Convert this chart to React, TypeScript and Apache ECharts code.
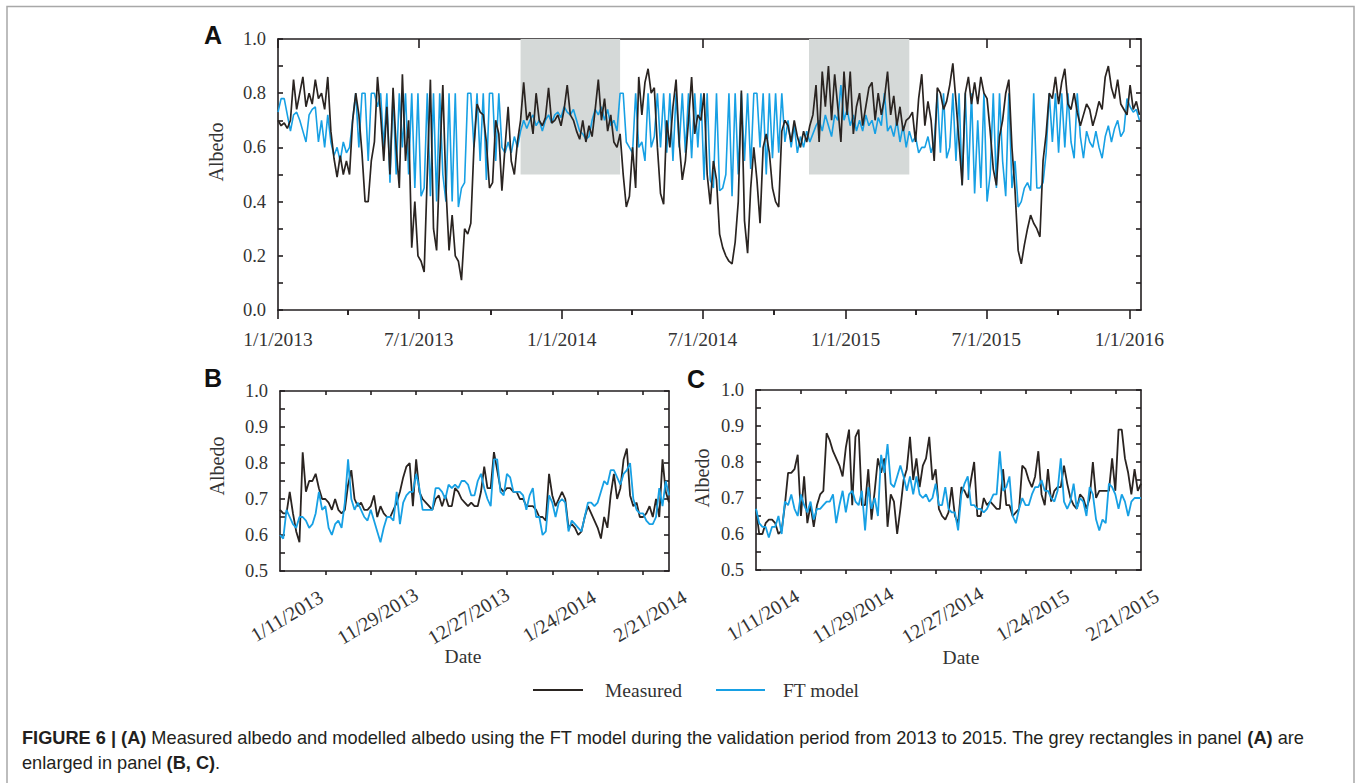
import React, { useEffect, useRef } from 'react';
import * as echarts from 'echarts';

// ---------- DATA ----------
// Panel A: sampled every A_STEP days from 1/1/2013
const A_STEP = 4;
const aMeasured = [
  0.70,0.68,0.69,0.67,0.70,0.85,0.74,0.80,0.86,0.75,0.80,0.76,0.85,0.78,0.80,0.74,
  0.86,0.66,0.56,0.49,0.57,0.50,0.55,0.50,0.70,0.80,0.72,0.58,0.40,0.40,0.55,0.62,
  0.86,0.72,0.55,0.75,0.50,0.82,0.60,0.45,0.87,0.55,0.70,0.23,0.40,0.20,0.18,0.14,
  0.50,0.85,0.30,0.22,0.55,0.83,0.45,0.22,0.35,0.20,0.18,0.11,0.30,0.28,0.32,0.60,
  0.76,0.73,0.72,0.62,0.45,
  0.47,0.70,0.65,0.44,0.60,0.75,0.55,0.50,0.62,0.70,0.84,0.70,0.73,0.65,0.80,0.70,
  0.68,0.71,0.82,0.69,0.70,0.72,0.68,0.74,0.83,0.72,0.70,0.66,0.63,0.70,0.62,0.68,
  0.64,0.74,0.85,0.70,0.78,0.66,0.72,0.62,0.60,0.65,0.50,0.38,0.42,0.60,0.45,0.86,
  0.72,0.84,0.89,0.80,0.82,0.60,0.43,0.39,0.70,0.60,0.75,0.85,0.62,0.48,0.55,0.70,
  0.86,0.65,0.72,0.70,0.80,0.50,0.39,0.55,0.48,0.28,0.23,0.20,0.18,0.17,0.25,0.40,
  0.81,0.33,0.21,0.45,0.60,0.48,0.32,0.60,0.65,0.58,0.45,0.40,0.38,0.66,0.70,0.68,
  0.62,0.70,0.64,0.60,0.66,0.62,0.68,
  0.72,0.83,0.62,0.88,0.75,0.90,0.70,0.87,0.75,0.62,0.88,0.72,0.88,0.65,0.75,0.80,
  0.68,0.75,0.82,0.84,0.70,0.80,0.72,0.78,0.88,0.72,0.79,0.68,0.75,0.66,0.70,0.71,
  0.73,0.62,0.78,0.87,
  0.68,0.77,0.70,0.55,0.82,0.80,0.74,0.77,0.83,0.91,0.77,0.62,0.46,0.80,0.86,0.76,
  0.84,0.76,0.86,0.80,0.78,0.66,0.52,0.46,0.64,0.70,0.80,0.85,0.60,0.44,0.22,0.17,
  0.24,0.30,0.35,0.32,0.30,0.27,0.55,0.65,0.80,0.78,0.86,0.76,0.84,0.89,0.76,0.74,
  0.80,0.73,0.68,0.72,0.76,0.74,0.68,0.72,0.77,0.74,0.86,0.90,0.82,0.78,0.85,0.76,
  0.74,0.72,0.83,0.74,0.77,0.72,
];
const aModel = [
  0.73,0.78,0.78,0.72,0.66,0.72,0.73,0.70,0.66,0.62,0.72,0.74,0.75,0.62,0.70,0.60,
  0.72,0.62,0.57,0.60,0.55,0.62,0.58,0.60,0.70,0.80,0.60,0.80,0.80,0.55,0.80,0.80,
  0.75,0.80,0.60,0.80,0.47,0.80,0.50,0.80,0.60,0.80,0.50,0.80,0.45,0.80,0.42,0.45,
  0.80,0.42,0.80,0.40,0.80,0.50,0.40,0.80,0.40,0.80,0.38,0.45,0.47,0.80,0.80,0.60,
  0.80,0.55,0.80,0.48,0.80,
  0.80,0.55,0.80,0.60,0.58,0.62,0.58,0.64,0.60,0.66,0.70,0.67,0.70,0.72,0.68,0.70,
  0.66,0.70,0.72,0.69,0.72,0.73,0.71,0.75,0.73,0.72,0.74,0.70,0.66,0.65,0.63,0.64,
  0.70,0.74,0.72,0.75,0.70,0.74,0.68,0.70,0.66,0.80,0.80,0.62,0.60,0.58,0.80,0.60,
  0.62,0.55,0.80,0.60,0.64,0.80,0.60,0.80,0.58,0.80,0.55,0.80,0.60,0.80,0.58,0.80,
  0.56,0.80,0.60,0.80,0.48,0.80,0.48,0.45,0.80,0.44,0.45,0.50,0.80,0.42,0.80,0.50,
  0.80,0.55,0.80,0.52,0.80,0.80,0.60,0.80,0.50,0.80,0.56,0.80,0.58,0.80,0.62,0.70,
  0.60,0.68,0.58,0.64,0.60,0.66,0.62,
  0.65,0.68,0.70,0.66,0.72,0.68,0.64,0.72,0.70,0.83,0.70,0.74,0.68,0.72,0.66,0.70,
  0.66,0.72,0.68,0.70,0.65,0.71,0.68,0.80,0.66,0.68,0.64,0.70,0.62,0.68,0.60,0.66,
  0.62,0.64,0.58,0.60,
  0.60,0.64,0.58,0.62,0.80,0.58,0.80,0.56,0.60,0.80,0.55,0.80,0.46,0.80,0.48,0.80,
  0.43,0.70,0.45,0.80,0.40,0.50,0.80,0.45,0.80,0.55,0.42,0.80,0.45,0.55,0.38,0.40,
  0.45,0.47,0.44,0.80,0.45,0.45,0.47,0.58,0.80,0.62,0.80,0.58,0.80,0.60,0.80,0.62,
  0.56,0.80,0.64,0.56,0.66,0.62,0.60,0.66,0.60,0.56,0.64,0.68,0.62,0.67,0.70,0.64,
  0.66,0.78,0.75,0.73,0.74,0.70,
];
const aTickLabels = ['1/1/2013', '7/1/2013', '1/1/2014', '7/1/2014', '1/1/2015', '7/1/2015', '1/1/2016'];
const aMajorDays = [0, 181, 365, 546, 730, 911, 1095];
const aMinorDays = [90, 273, 455, 638, 820, 1003];
const aMaxDay = 1110;
const greyBoxes = [[312, 440], [683, 812]];

// Panels B and C: daily values, 120 days
const bMeasured = [
  0.67,0.66,0.66,0.72,0.66,0.61,0.58,0.83,0.72,0.75,0.75,0.77,0.73,0.70,0.70,0.69,0.67,0.70,0.67,0.66,
  0.67,0.74,0.78,0.70,0.68,0.69,0.67,0.67,0.68,0.71,0.65,0.68,0.66,0.65,0.65,0.67,0.69,0.72,0.76,0.79,
  0.80,0.68,0.81,0.72,0.70,0.69,0.68,0.67,0.70,0.71,0.68,0.71,0.68,0.68,0.73,0.72,0.70,0.69,0.68,0.69,
  0.68,0.68,0.72,0.79,0.73,0.73,0.83,0.78,0.73,0.72,0.73,0.73,0.72,0.72,0.70,0.70,0.68,0.68,0.68,0.67,
  0.65,0.65,0.64,0.77,0.71,0.68,0.70,0.72,0.70,0.62,0.63,0.62,0.60,0.61,0.65,0.68,0.66,0.64,0.62,0.59,
  0.65,0.62,0.71,0.77,0.70,0.73,0.81,0.84,0.71,0.68,0.69,0.65,0.65,0.66,0.68,0.65,0.70,0.65,0.81,0.72,
  0.69,
];
const bModel = [
  0.60,0.59,0.67,0.65,0.63,0.62,0.65,0.65,0.64,0.62,0.63,0.66,0.72,0.67,0.68,0.62,0.60,0.63,0.64,0.62,
  0.69,0.81,0.70,0.67,0.69,0.67,0.65,0.64,0.67,0.64,0.61,0.58,0.62,0.65,0.65,0.64,0.72,0.63,0.69,0.71,
  0.72,0.72,0.77,0.73,0.67,0.67,0.67,0.67,0.73,0.73,0.72,0.70,0.74,0.73,0.74,0.73,0.75,0.75,0.74,0.71,
  0.71,0.75,0.77,0.73,0.70,0.68,0.81,0.81,0.72,0.71,0.77,0.76,0.72,0.72,0.72,0.71,0.67,0.71,0.73,0.65,
  0.65,0.60,0.61,0.71,0.69,0.65,0.69,0.70,0.69,0.61,0.64,0.63,0.62,0.61,0.65,0.69,0.69,0.68,0.69,0.72,
  0.75,0.74,0.78,0.78,0.76,0.74,0.77,0.78,0.80,0.70,0.67,0.66,0.66,0.64,0.63,0.63,0.65,0.73,0.68,0.75,
  0.71,
];
const cMeasured = [
  0.67,0.60,0.60,0.63,0.64,0.64,0.63,0.60,0.61,0.68,0.77,0.77,0.78,0.82,0.65,0.76,0.63,0.68,0.62,0.68,
  0.71,0.72,0.88,0.86,0.83,0.81,0.79,0.76,0.84,0.89,0.68,0.87,0.89,0.68,0.68,0.78,0.64,0.72,0.81,0.77,
  0.81,0.62,0.71,0.69,0.60,0.67,0.75,0.78,0.87,0.75,0.81,0.73,0.79,0.81,0.87,0.75,0.78,0.67,0.65,0.64,
  0.66,0.73,0.65,0.63,0.73,0.72,0.70,0.75,0.80,0.65,0.65,0.70,0.68,0.69,0.68,0.67,0.67,0.78,0.68,0.68,
  0.65,0.66,0.67,0.79,0.78,0.75,0.73,0.76,0.83,0.71,0.68,0.78,0.69,0.72,0.73,0.73,0.79,0.74,0.70,0.68,
  0.67,0.71,0.70,0.67,0.70,0.80,0.70,0.72,0.72,0.72,0.72,0.81,0.72,0.89,0.89,0.81,0.77,0.71,0.78,0.72,
  0.74,
];
const cModel = [
  0.67,0.63,0.62,0.62,0.59,0.62,0.62,0.65,0.60,0.69,0.68,0.71,0.67,0.65,0.71,0.68,0.66,0.69,0.64,0.67,
  0.67,0.68,0.69,0.69,0.71,0.63,0.68,0.72,0.66,0.71,0.72,0.69,0.68,0.72,0.61,0.73,0.67,0.70,0.65,0.82,
  0.77,0.85,0.74,0.73,0.76,0.79,0.76,0.72,0.76,0.71,0.76,0.71,0.70,0.71,0.69,0.70,0.74,0.68,0.68,0.73,
  0.67,0.66,0.66,0.61,0.71,0.74,0.76,0.68,0.68,0.67,0.67,0.66,0.67,0.69,0.71,0.71,0.83,0.72,0.73,0.76,
  0.65,0.63,0.67,0.70,0.68,0.68,0.71,0.73,0.73,0.75,0.72,0.72,0.70,0.69,0.72,0.81,0.69,0.67,0.69,0.74,
  0.67,0.70,0.69,0.65,0.73,0.71,0.64,0.61,0.64,0.63,0.74,0.73,0.71,0.67,0.71,0.69,0.65,0.69,0.70,0.70,
  0.70,
];
const zoomMaxDay = 120;
const zoomLabelDays = [0, 28, 56, 84, 112];
const zoomTickDays = [14, 28, 42, 56, 70, 84, 98, 112];
const bTickLabels = ['1/11/2013', '11/29/2013', '12/27/2013', '1/24/2014', '2/21/2014'];
const cTickLabels = ['1/11/2014', '11/29/2014', '12/27/2014', '1/24/2015', '2/21/2015'];

// ---------- STYLE ----------
const BLACK = '#2a2421';
const BLUE = '#17a0e4';
const AXIS = '#231f20';
const SERIF = '"Liberation Serif", "Times New Roman", serif';
const SANS = '"Liberation Sans", Arial, sans-serif';
const LABEL_COLOR = '#333';

const axisLineStyle = { color: AXIS, width: 1.6 };

function xAxes(grid: number, max: number, majors: number[], labels: number[], names: string[], opts: any) {
  const base = { type: 'value', gridIndex: grid, min: 0, max, splitLine: { show: false } };
  const list: any[] = [
    {
      ...base, position: 'bottom',
      axisLine: { show: true, onZero: false, lineStyle: axisLineStyle },
      axisTick: { show: true, inside: opts.bottomInside, length: opts.majorLen, customValues: majors, lineStyle: axisLineStyle },
      axisLabel: {
        show: true, customValues: labels,
        formatter: (v: number) => { const i = labels.indexOf(v); return i >= 0 ? names[i] : ''; },
        fontFamily: SERIF, fontSize: opts.fontSize, color: LABEL_COLOR, margin: opts.labelMargin,
        rotate: opts.rotate || 0,
        ...(opts.rotate ? { align: 'center', verticalAlign: 'middle', padding: [0, 0, 0, 16] } : {}),
      },
    },
    {
      ...base, position: 'top',
      axisLine: { show: true, onZero: false, lineStyle: axisLineStyle },
      axisTick: { show: true, inside: true, length: opts.majorLen, customValues: majors, lineStyle: axisLineStyle },
      axisLabel: { show: false },
    },
  ];
  if (opts.minors) {
    list.push({
      ...base, position: 'bottom',
      axisLine: { show: false },
      axisTick: { show: true, inside: opts.bottomInside, length: opts.minorLen, customValues: opts.minors, lineStyle: axisLineStyle },
      axisLabel: { show: false },
    });
    list.push({
      ...base, position: 'top',
      axisLine: { show: false },
      axisTick: { show: true, inside: true, length: opts.minorLen, customValues: opts.minors, lineStyle: axisLineStyle },
      axisLabel: { show: false },
    });
  }
  return list;
}

function yAxes(grid: number, min: number, max: number, interval: number, labelEvery: number) {
  const base = { type: 'value', gridIndex: grid, min, max, interval, splitLine: { show: false } };
  return [
    {
      ...base, position: 'left',
      axisLine: { show: true, onZero: false, lineStyle: axisLineStyle },
      axisTick: { show: true, inside: true, length: 5, lineStyle: axisLineStyle },
      axisLabel: {
        fontFamily: SERIF, fontSize: 18.5, color: LABEL_COLOR, margin: 12,
        formatter: (v: number) => {
          const k = Math.round(v / interval);
          return k % labelEvery === 0 ? v.toFixed(1) : '';
        },
      },
    },
    {
      ...base, position: 'right',
      axisLine: { show: true, onZero: false, lineStyle: axisLineStyle },
      axisTick: { show: true, inside: true, length: 5, lineStyle: axisLineStyle },
      axisLabel: { show: false },
    },
  ];
}

function text(x: number, y: number, str: string, font: any, extra: any = {}) {
  return {
    type: 'text', x, y, ...extra,
    style: { text: str, align: 'center', verticalAlign: 'middle', fill: LABEL_COLOR, ...font },
  };
}

export default function App() {
  const ref = useRef<HTMLDivElement>(null);

  useEffect(() => {
    if (!ref.current) return;
    const chart = echarts.init(ref.current, undefined, { renderer: 'svg' });

    const xA = xAxes(0, aMaxDay, aMajorDays, aMajorDays, aTickLabels,
      { bottomInside: false, majorLen: 9, minorLen: 5, minors: aMinorDays, labelMargin: 19, fontSize: 19.5 });
    const xB = xAxes(1, zoomMaxDay, zoomTickDays, zoomLabelDays, bTickLabels,
      { bottomInside: false, majorLen: 4, labelMargin: 49, rotate: 31, fontSize: 20 });
    const xC = xAxes(2, zoomMaxDay, zoomTickDays, zoomLabelDays, cTickLabels,
      { bottomInside: false, majorLen: 4, labelMargin: 49, rotate: 31, fontSize: 20 });
    const xAll = [...xA, ...xB, ...xC];
    const xIdxA = 0, xIdxB = xA.length, xIdxC = xA.length + xB.length;

    const yAll = [...yAxes(0, 0, 1, 0.1, 2), ...yAxes(1, 0.5, 1, 0.05, 2), ...yAxes(2, 0.5, 1, 0.05, 2)];
    const yIdxA = 0, yIdxB = 2, yIdxC = 4;

    const line = (name: string, color: string, width: number, data: number[][], xi: number, yi: number, extra: any = {}) => ({
      type: 'line', name, xAxisIndex: xi, yAxisIndex: yi, data, showSymbol: false, symbol: 'none',
      lineStyle: { color, width }, itemStyle: { color }, silent: true, ...extra,
    });

    const aM = aMeasured.map((v, i) => [i * A_STEP, v]);
    const aF = aModel.map((v, i) => [i * A_STEP, v]);
    const bM = bMeasured.map((v, i) => [i, v]);
    const bF = bModel.map((v, i) => [i, v]);
    const cM = cMeasured.map((v, i) => [i, v]);
    const cF = cModel.map((v, i) => [i, v]);

    const legendY = 690;
    const captionFont = 18.2;

    chart.setOption({
      animation: false,
      backgroundColor: '#ffffff',
      grid: [
        { left: 278, top: 39, width: 863, height: 271 },
        { left: 280, top: 391, width: 389, height: 180 },
        { left: 756, top: 390, width: 385, height: 180 },
      ],
      xAxis: xAll,
      yAxis: yAll,
      series: [
        line('FT model', BLUE, 1.6, aF, xIdxA, yIdxA, {
          markArea: {
            silent: true,
            itemStyle: { color: '#d5d9d8' },
            data: greyBoxes.map(([s, e]) => [{ xAxis: s, yAxis: 0.5 }, { xAxis: e, yAxis: 1 }]),
          },
        }),
        line('Measured', BLACK, 1.7, aM, xIdxA, yIdxA),
        line('Measured', BLACK, 1.8, bM, xIdxB, yIdxB),
        line('FT model', BLUE, 1.8, bF, xIdxB, yIdxB),
        line('Measured', BLACK, 1.8, cM, xIdxC, yIdxC),
        line('FT model', BLUE, 1.8, cF, xIdxC, yIdxC),
      ],
      graphic: [
        { type: 'rect', shape: { x: 7, y: 6.5, width: 1347, height: 820 }, style: { fill: 'none', stroke: '#a8a8a8', lineWidth: 1.5 }, silent: true },
        text(213, 35, 'A', { fontFamily: SANS, fontWeight: 'bold', fontSize: 25, fill: '#111' }),
        text(213, 378, 'B', { fontFamily: SANS, fontWeight: 'bold', fontSize: 25, fill: '#111' }),
        text(696, 379, 'C', { fontFamily: SANS, fontWeight: 'bold', fontSize: 25, fill: '#111' }),
        text(216, 152, 'Albedo', { fontFamily: SERIF, fontSize: 20 }, { rotation: Math.PI / 2 }),
        text(217, 466, 'Albedo', { fontFamily: SERIF, fontSize: 20 }, { rotation: Math.PI / 2 }),
        text(702, 478, 'Albedo', { fontFamily: SERIF, fontSize: 20 }, { rotation: Math.PI / 2 }),
        text(463, 656, 'Date', { fontFamily: SERIF, fontSize: 19.5 }),
        text(961, 657, 'Date', { fontFamily: SERIF, fontSize: 19.5 }),
        { type: 'line', shape: { x1: 533, y1: legendY, x2: 583, y2: legendY }, style: { stroke: BLACK, lineWidth: 2 } },
        { type: 'text', x: 605, y: legendY, style: { text: 'Measured', align: 'left', verticalAlign: 'middle', fill: LABEL_COLOR, fontFamily: SERIF, fontSize: 19.5 } },
        { type: 'line', shape: { x1: 716, y1: legendY, x2: 765, y2: legendY }, style: { stroke: BLUE, lineWidth: 2 } },
        { type: 'text', x: 783, y: legendY, style: { text: 'FT model', align: 'left', verticalAlign: 'middle', fill: LABEL_COLOR, fontFamily: SERIF, fontSize: 19.5 } },
        {
          type: 'text', x: 22, y: 738,
          style: {
            text: '{b|FIGURE 6 | (A)} Measured albedo and modelled albedo using the FT model during the validation period from 2013 to 2015. The grey rectangles in panel {b|(A)} are',
            align: 'left', verticalAlign: 'middle', fill: '#231f20', fontFamily: SANS, fontSize: captionFont,
            rich: { b: { fontFamily: SANS, fontSize: captionFont, fontWeight: 'bold', fill: '#231f20' } },
          },
        },
        {
          type: 'text', x: 22, y: 763,
          style: {
            text: 'enlarged in panel {b|(B, C)}.',
            align: 'left', verticalAlign: 'middle', fill: '#231f20', fontFamily: SANS, fontSize: captionFont,
            rich: { b: { fontFamily: SANS, fontSize: captionFont, fontWeight: 'bold', fill: '#231f20' } },
          },
        },
      ],
    });

    return () => chart.dispose();
  }, []);

  return (
    <div
      ref={ref}
      style={{ position: 'absolute', left: 0, top: 0, width: 1355, height: 783, background: '#fff' }}
    />
  );
}
